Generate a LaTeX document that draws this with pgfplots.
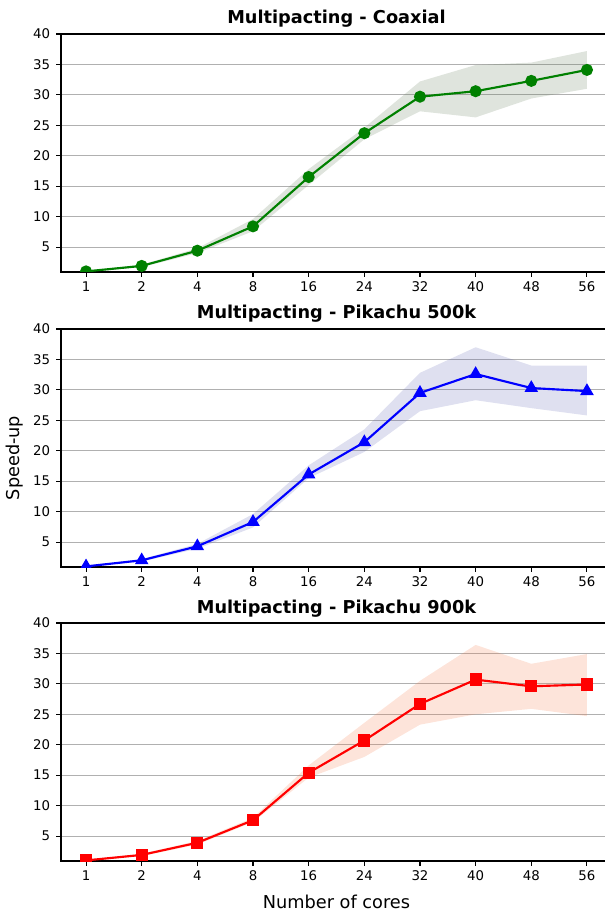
\documentclass[border=0pt]{standalone}
\usepackage{pgfplots}
\pgfplotsset{compat=1.18}
\usepgfplotslibrary{fillbetween}
\usepackage{fontspec}
\setmainfont{DejaVu Sans}

\definecolor{mgreen}{RGB}{0,128,0}
\definecolor{mblue}{RGB}{0,0,255}
\definecolor{mred}{RGB}{255,0,0}
\definecolor{bgreen}{RGB}{95,120,85}
\definecolor{bblue}{RGB}{95,100,180}
\definecolor{bred}{RGB}{245,120,70}
\definecolor{gridgray}{RGB}{176,176,176}

\pgfplotstableread{
x mean up lo
0 1.0 1.1 0.9
1 1.9 2.1 1.7
2 4.4 4.8 4.0
3 8.4 9.6 7.6
4 16.5 17.8 15.2
5 23.7 24.6 22.7
6 29.7 32.2 27.3
7 30.6 34.9 26.3
8 32.3 35.3 29.4
9 34.1 37.2 31.0
}\coaxial

\pgfplotstableread{
x mean up lo
0 1.0 1.1 0.9
1 2.0 2.2 1.8
2 4.3 4.7 3.9
3 8.3 9.6 7.4
4 16.1 17.6 15.5
5 21.4 23.5 19.8
6 29.5 32.8 26.5
7 32.6 37.0 28.3
8 30.3 34.0 27.0
9 29.8 34.0 25.8
}\pikafive

\pgfplotstableread{
x mean up lo
0 1.0 1.1 0.9
1 1.9 2.1 1.7
2 3.9 4.2 3.6
3 7.6 8.0 7.3
4 15.4 16.6 14.6
5 20.7 23.6 18.0
6 26.7 30.5 23.3
7 30.7 36.4 25.0
8 29.6 33.3 25.9
9 29.9 34.9 24.7
}\pikanine

\pgfplotsset{
 mystyle/.style={
  scale only axis, width=413.25pt, height=178.5pt,
  xmin=-0.45, xmax=9.45, ymin=0.9, ymax=40,
  xtick={0,...,9}, xticklabels={1,2,4,8,16,24,32,40,48,56},
  ytick={5,10,...,40},
  ymajorgrids, grid style={color=gridgray, line width=0.8pt},
  axis line style={line width=0.8pt},
  tick align=outside, tick pos=left, major tick length=3.6pt,
  tick style={black, line width=0.8pt},
  /pgf/number format/assume math mode=true,
  ticklabel style={font=\fontsize{10}{12}\selectfont},
  yticklabel style={xshift=-1pt},
  title style={font=\bfseries\fontsize{13.3}{16}\selectfont, at={(0.5,1)}, anchor=base, yshift=1.5pt},
  label style={font=\fontsize{13.3}{16}\selectfont},
  clip marker paths=true,
 }
}

\begin{document}
\begin{tikzpicture}

\begin{axis}[mystyle, at={(45.75pt,-204pt)}, anchor=south west,
  title={Multipacting - Coaxial}]
\addplot[draw=none, name path=up, forget plot] table[x=x, y=up] {\coaxial};
\addplot[draw=none, name path=lo, forget plot] table[x=x, y=lo] {\coaxial};
\addplot[fill=bgreen, fill opacity=0.2, draw=none] fill between[of=up and lo];
\addplot[mgreen, line width=1.6pt, mark=*, mark size=3.7pt] table[x=x, y=mean] {\coaxial};
\end{axis}

\begin{axis}[mystyle, at={(45.75pt,-425.25pt)}, anchor=south west,
  title={Multipacting - Pikachu 500k},
  ylabel={Speed-up},
  ylabel style={at={(axis description cs:0,0.5)}, anchor=base, xshift=-7.5pt, yshift=31.5pt}]
\addplot[draw=none, name path=up, forget plot] table[x=x, y=up] {\pikafive};
\addplot[draw=none, name path=lo, forget plot] table[x=x, y=lo] {\pikafive};
\addplot[fill=bblue, fill opacity=0.2, draw=none] fill between[of=up and lo];
\addplot[mblue, line width=1.6pt, mark=triangle*, mark size=4.3pt] table[x=x, y=mean] {\pikafive};
\end{axis}

\begin{axis}[mystyle, at={(45.75pt,-645.75pt)}, anchor=south west,
  title={Multipacting - Pikachu 900k},
  xlabel={Number of cores},
  xlabel style={at={(axis description cs:0.5,0)}, anchor=base, yshift=-35.25pt}]
\addplot[draw=none, name path=up, forget plot] table[x=x, y=up] {\pikanine};
\addplot[draw=none, name path=lo, forget plot] table[x=x, y=lo] {\pikanine};
\addplot[fill=bred, fill opacity=0.2, draw=none] fill between[of=up and lo];
\addplot[mred, line width=1.6pt, mark=square*, mark size=3.8pt] table[x=x, y=mean] {\pikanine};
\end{axis}

\pgfresetboundingbox
\path[use as bounding box] (0,0) rectangle (453.75pt,-684pt);
\end{tikzpicture}
\end{document}
